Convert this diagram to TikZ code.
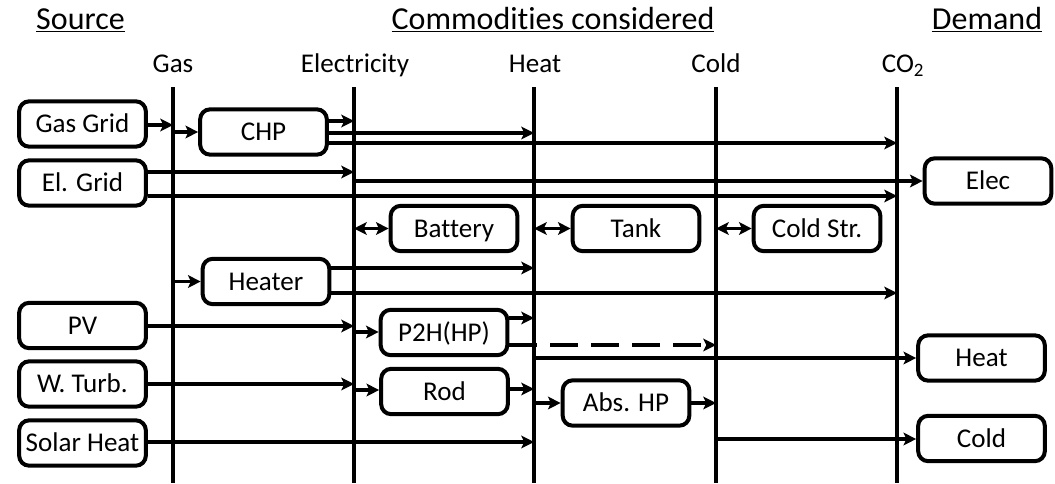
\documentclass[tikz,border=0pt]{standalone}
\usepackage{fontspec}
\setmainfont{Carlito}[Ligatures=NoCommon]
\usetikzlibrary{arrows.meta}
\begin{document}
\begin{tikzpicture}[x=0.75pt,y=-0.75pt,
  box/.style={draw, line width=3pt, rounded corners=7.5pt, minimum width=95pt, minimum height=34pt, inner sep=0pt, text height=13pt, text depth=0pt, font=\fontsize{20.3}{24}\selectfont},
  bus/.style={line width=2.7pt},
  tip/.tip={Stealth[length=9.5pt,width=9.5pt,inset=2.2pt]},
  arr/.style={line width=2.6pt, -tip},
  arrd/.style={line width=2.6pt, tip-tip},
  lab/.style={anchor=base, font=\fontsize{20.3}{24}\selectfont},
  hdr/.style={anchor=base, font=\fontsize{24}{28}\selectfont}]
\useasboundingbox (0,0) rectangle (1055,483);

% headers
\node[hdr] (hsrc) at (80.5,29) {\underline{Source}};
\node[hdr] (hcom) at (553,29) {\underline{Commodities considered}};
\node[hdr] (hdem) at (987,29) {\underline{Demand}};

% column labels
\node[lab] (lgas) at (173,72) {Gas};
\node[lab] (lel) at (355,72) {Electricity};
\node[lab] (lheat) at (535,72) {Heat};
\node[lab] (lcold) at (716,72) {Cold};
\node[lab] (lco2) at (903,72) {CO\textsubscript{2}};

% buses
\coordinate (gasT) at (173,87);  \coordinate (gasB) at (173,483);
\coordinate (elT) at (354,87);   \coordinate (elB) at (354,483);
\coordinate (heatT) at (534,87); \coordinate (heatB) at (534,483);
\coordinate (coldT) at (716,87); \coordinate (coldB) at (716,483);
\coordinate (co2T) at (897,87);  \coordinate (co2B) at (897,483);
\draw[bus] (gasT) -- (gasB);
\draw[bus] (elT) -- (elB);
\draw[bus] (heatT) -- (heatB);
\draw[bus] (coldT) -- (coldB);
\draw[bus] (co2T) -- (co2B);

% source boxes
\node[box] (gg) at (82.5,124) {Gas Grid};
\node[box] (eg) at (82.5,183) {El. Grid};
\node[box] (pv) at (82.5,325.5) {PV};
\node[box] (wt) at (82.5,384) {W. Turb.};
\node[box] (sh) at (82.5,443) {Solar Heat};

% conversion / storage boxes
\node[box] (chp) at (263.5,132) {CHP};
\node[box] (heater) at (266,281.5) {Heater};
\node[box] (bat) at (454,228.5) {Battery};
\node[box] (tank) at (636,228.5) {Tank};
\node[box] (cstr) at (817,228.5) {Cold Str.};
\node[box] (p2h) at (444,332.5) {P2H(HP)};
\node[box] (rod) at (444.5,391.5) {Rod};
\node[box] (abs) at (626,403) {Abs. HP};

% demand boxes
\node[box] (delec) at (988,181) {Elec};
\node[box] (dheat) at (981.5,358) {Heat};
\node[box] (dcold) at (981.5,438.5) {Cold};

% connectors
\draw[arr] (gg.east |- 0,125) -- (gasT |- 0,125);
\draw[arr] (gasT |- 0,132) -- (chp.west |- 0,132);
\draw[arr] (chp.east |- 0,121) -- (elT |- 0,121);
\draw[arr] (chp.east |- 0,133) -- (heatT |- 0,133);
\draw[arr] (chp.east |- 0,143) -- (co2T |- 0,143);
\draw[arr] (eg.east |- 0,172) -- (elT |- 0,172);
\draw[arr] (elT |- 0,181) -- (delec.west |- 0,181);
\draw[arr] (eg.east |- 0,196) -- (co2T |- 0,196);
\draw[arrd] (elT |- bat.west) -- (bat.west);
\draw[arrd] (heatT |- tank.west) -- (tank.west);
\draw[arrd] (coldT |- cstr.west) -- (cstr.west);
\draw[arr] (gasT |- heater.west) -- (heater.west);
\draw[arr] (heater.east |- 0,268) -- (heatT |- 0,268);
\draw[arr] (heater.east |- 0,293) -- (co2T |- 0,293);
\draw[arr] (pv.east |- 0,326) -- (elT |- 0,326);
\draw[arr] (elT |- 0,332) -- (p2h.west |- 0,332);
\draw[arr] (p2h.east |- 0,318) -- (heatT |- 0,318);
\draw[arr, dash pattern=on 21pt off 9.75pt] (p2h.east |- 0,345) -- (coldT |- 0,345);
\draw[arr] (heatT |- 0,358) -- (dheat.west);
\draw[arr] (wt.east |- 0,384) -- (elT |- 0,384);
\draw[arr] (elT |- 0,390) -- (rod.west |- 0,390);
\draw[arr] (rod.east |- 0,389) -- (heatT |- 0,389);
\draw[arr] (heatT |- abs.west) -- (abs.west);
\draw[arr] (abs.east) -- (coldT |- abs.east);
\draw[arr] (sh.east |- 0,442) -- (heatT |- 0,442);
\draw[arr] (coldT |- 0,439) -- (dcold.west |- 0,439);
\end{tikzpicture}
\end{document}
